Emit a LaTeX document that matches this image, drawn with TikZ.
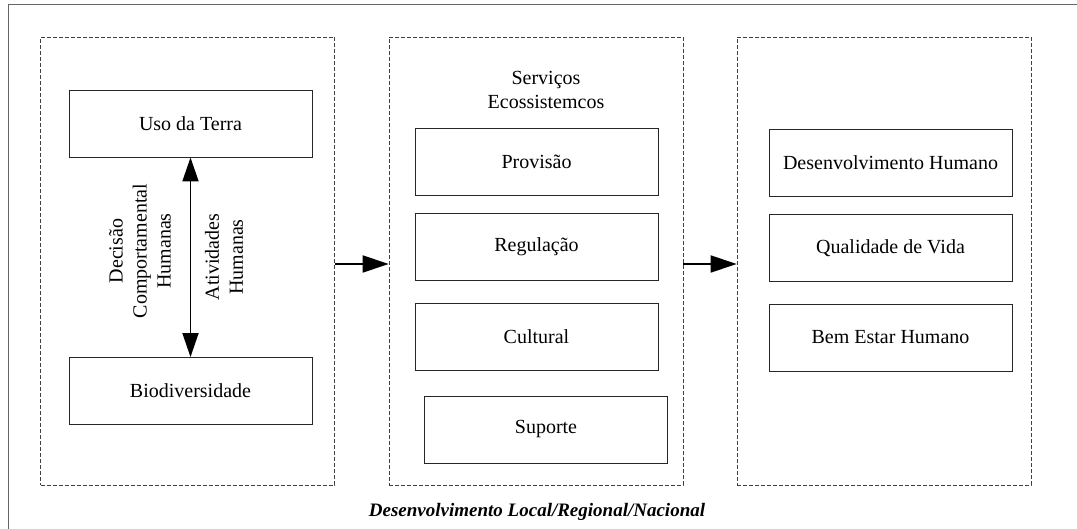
\documentclass[tikz,border=0pt]{standalone}
\usepackage{fontspec}
\setmainfont{Liberation Serif}
\usetikzlibrary{arrows.meta, positioning}

\tikzset{
    caixa/.style={draw=black!85, line width=0.9pt, minimum width=243pt, minimum height=67pt, inner sep=0pt},
    grupo/.style={draw=black!75, line width=0.7pt, dash pattern=on 4pt off 2pt, minimum width=294pt, minimum height=448pt, inner sep=0pt},
    seta/.style={line width=1.8pt, -{Triangle[length=26pt, width=17pt]}},
    setadupla/.style={line width=1.8pt, {Triangle[length=24pt, width=16pt]}-{Triangle[length=24pt, width=16pt]}}
}

\begin{document}
\begin{tikzpicture}[x=1pt, y=-1pt, font=\fontsize{20}{24}\selectfont]
                        \useasboundingbox (0, 0) rectangle (1077, 529);
                        \draw[black!60, line width=1pt] (8, 5) rectangle (1085, 540);

                        % grupos tracejados
                        \node[grupo] (esq) at (187.5, 261) {};
                        \node[grupo] (meio) at (536, 261) {};
                        \node[grupo] (dir) at (884, 261) {};

                        % coluna esquerda
                        \node[caixa] (uso) at (190.5, 123.5) {Uso da Terra};
                        \node[caixa] (bio) at (190.5, 391) {Biodiversidade};
                        \node[rotate=90, align=center] (decisao) at (140, 251) {Decisão\\Comportamental\\Humanas};
                        \node[rotate=90, align=center] (ativ) at (224, 257) {Atividades\\Humanas};

                        % servicos
                        \node[align=center] (servicos) at (546, 90) {Serviços\\Ecossistemcos};
                        \node[caixa] (prov) at (536.5, 162) {Provisão};
                        \node[caixa] (reg) at (536.5, 247) {Regulação};
                        \node[caixa] (cult) at (536.5, 337) {Cultural};
                        \node[caixa] (sup) at (546, 429.5) {Suporte};

                        % bem estar
                        \node[caixa] (desh) at (890.5, 163) {Desenvolvimento Humano};
                        \node[caixa] (qual) at (890.5, 248) {Qualidade de Vida};
                        \node[caixa] (bem) at (890.5, 337.5) {Bem Estar Humano};

                        \node[font=\fontsize{19}{23}\selectfont\bfseries\itshape] (local) at (537, 512) {Desenvolvimento Local/Regional/Nacional};

                        \draw
                        (uso.south) edge[setadupla] (bio.north)
                        ([yshift=-3pt]esq.east) edge[seta] ([yshift=-3pt]meio.west)
                        ([yshift=-3pt]meio.east) edge[seta] ([yshift=-3pt]dir.west);
                    \end{tikzpicture}
\end{document}
